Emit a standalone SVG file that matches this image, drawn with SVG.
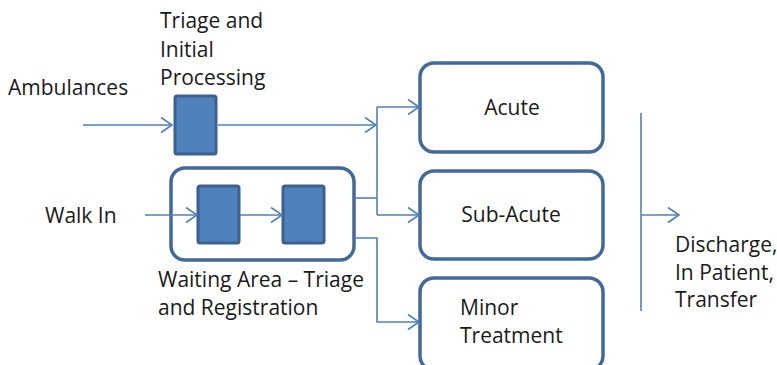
<svg xmlns="http://www.w3.org/2000/svg" width="777" height="365" viewBox="0 0 777 365">
  <style>
    text { font-family: "Open Sans", "Liberation Sans", sans-serif; font-size: 21px; fill: #1a1a1a; }
    .flow { fill: none; stroke: #4f81bd; stroke-width: 1.6; }
    .step { fill: #4f81bd; stroke: #3b6190; stroke-width: 3; }
    .area { fill: none; stroke: #41699b; stroke-width: 3.5; }
  </style>
  <defs>
    <marker id="open" markerUnits="userSpaceOnUse" markerWidth="14" markerHeight="18" refX="12" refY="9" orient="auto" overflow="visible">
      <path d="M1,1.5 L12,9 L1,16.5" fill="none" stroke="#4f81bd" stroke-width="1.6"/>
    </marker>
  </defs>

  <rect width="777" height="365" fill="#ffffff"/>

  <g id="ambulances">
    <text x="8" y="95">Ambulances</text>
  </g>

  <g id="triage-initial">
    <rect class="step" x="175" y="96" width="41" height="58" rx="2"/>
    <text x="160" y="28">Triage and</text>
    <text x="160" y="57">Initial</text>
    <text x="160" y="85">Processing</text>
  </g>

  <g id="walk-in">
    <text x="45" y="223">Walk In</text>
  </g>

  <g id="waiting-area">
    <rect class="area" x="171" y="168" width="183" height="92" rx="14"/>
    <rect class="step" x="198" y="186" width="41" height="57" rx="2"/>
    <rect class="step" x="283" y="186" width="41" height="57" rx="2"/>
    <text x="158" y="287">Waiting Area – Triage</text>
    <text x="158" y="315">and Registration</text>
  </g>

  <g id="acute">
    <rect class="area" x="420" y="63" width="183" height="89" rx="14"/>
    <text x="512" y="115" text-anchor="middle">Acute</text>
  </g>

  <g id="sub-acute">
    <rect class="area" x="420" y="171" width="183" height="88" rx="14"/>
    <text x="511" y="222" text-anchor="middle">Sub-Acute</text>
  </g>

  <g id="minor-treatment">
    <rect class="area" x="420" y="278" width="183" height="92" rx="14"/>
    <text x="460" y="315">Minor</text>
    <text x="460" y="343">Treatment</text>
  </g>

  <g id="discharge">
    <text x="675" y="252">Discharge,</text>
    <text x="675" y="280">In Patient,</text>
    <text x="675" y="307">Transfer</text>
  </g>

  <!-- connectors -->
  <g id="connectors">
    <path class="flow" d="M83,125 H172" marker-end="url(#open)"/>
    <path class="flow" d="M218,125 H376" marker-end="url(#open)"/>
    <path class="flow" d="M377,107 V215"/>
    <path class="flow" d="M377,107 H419" marker-end="url(#open)"/>
    <path class="flow" d="M377,215 H419" marker-end="url(#open)"/>
    <path class="flow" d="M356,198 H377"/>
    <path class="flow" d="M356,238 H377 V322 H419" marker-end="url(#open)"/>
    <path class="flow" d="M145,215 H197" marker-end="url(#open)"/>
    <path class="flow" d="M240,215 H282" marker-end="url(#open)"/>
    <path class="flow" d="M641,113 V311"/>
    <path class="flow" d="M641,215 H679" marker-end="url(#open)"/>
  </g>
</svg>
